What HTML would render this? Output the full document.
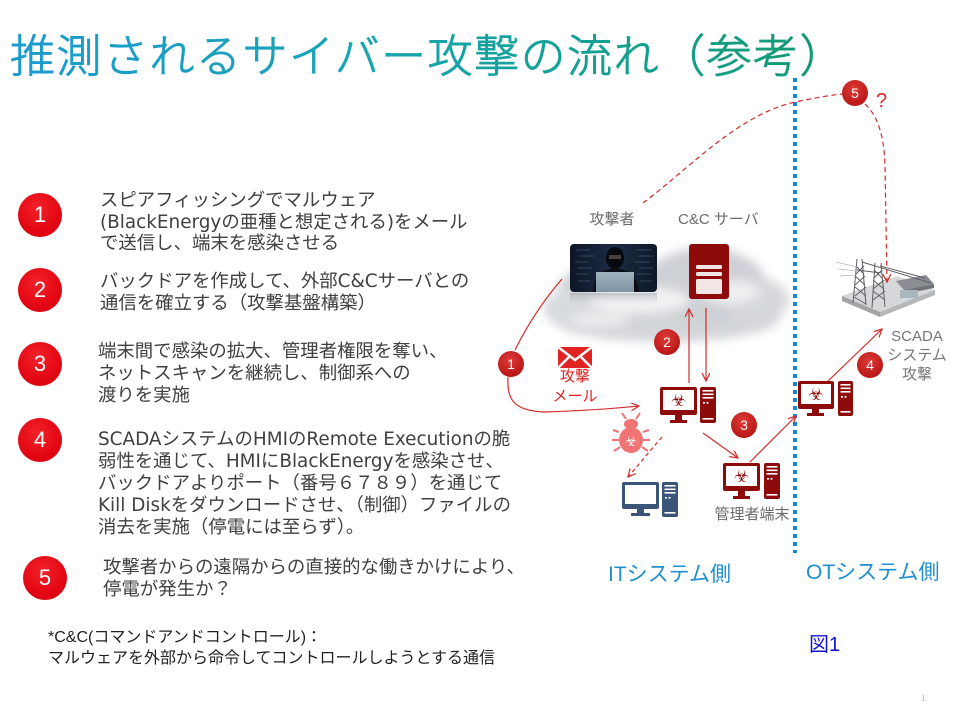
<!DOCTYPE html>
<html><head><meta charset="utf-8">
<style>
html,body{margin:0;padding:0;background:#fff;}
body{width:960px;height:720px;position:relative;overflow:hidden;font-family:"Liberation Sans","Noto Sans CJK JP",sans-serif;}
.t{position:absolute;white-space:nowrap;font-family:"Liberation Sans","Noto Sans CJK JP",sans-serif;}
.li{font-size:18.4px;color:#404040;font-family:"DejaVu Sans","Noto Sans CJK JP",sans-serif;}
.circ{position:absolute;width:44px;height:44px;border-radius:50%;background:radial-gradient(circle at 45% 35%,#f2232a 0%,#e30613 60%,#d0000c 100%);color:#fff;font-size:22px;line-height:44px;text-align:center;font-family:"Liberation Sans",sans-serif;}
.lbl{font-size:15px;color:#6b6b6b;text-align:center;}
</style></head><body>

<svg width="960" height="90" style="position:absolute;left:0;top:0;" xmlns="http://www.w3.org/2000/svg">
<defs><linearGradient id="tg" gradientUnits="userSpaceOnUse" x1="10" y1="0" x2="830" y2="0"><stop offset="0" stop-color="#1d9bd0"/><stop offset="0.45" stop-color="#17a5b0"/><stop offset="1" stop-color="#129a72"/></linearGradient></defs>
<text x="10" y="72" font-family="Noto Sans CJK JP, sans-serif" font-weight="300" font-size="45" letter-spacing="1.5" fill="url(#tg)" stroke="url(#tg)" stroke-width="0.9">推測されるサイバー攻撃の流れ（参考）</text>
</svg>

<div class="circ" style="left:18px;top:193px;">1</div>
<div class="circ" style="left:18px;top:268px;">2</div>
<div class="circ" style="left:18px;top:342px;">3</div>
<div class="circ" style="left:18px;top:418px;">4</div>
<div class="circ" style="left:23px;top:556px;">5</div>

<div class="t li" style="left:100px;top:190px;line-height:21.5px;">スピアフィッシングでマルウェア<br>(BlackEnergyの亜種と想定される)をメール<br>で送信し、端末を感染させる</div>
<div class="t li" style="left:100px;top:271px;line-height:21.5px;">バックドアを作成して、外部C&amp;Cサーバとの<br>通信を確立する（攻撃基盤構築）</div>
<div class="t li" style="left:98px;top:341px;line-height:22px;">端末間で感染の拡大、管理者権限を奪い、<br>ネットスキャンを継続し、制御系への<br>渡りを実施</div>
<div class="t li" style="left:98px;top:429px;line-height:22px;">SCADAシステムのHMIのRemote Executionの脆<br>弱性を通じて、HMIにBlackEnergyを感染させ、<br>バックドアよりポート（番号６７８９）を通じて<br>Kill Diskをダウンロードさせ、（制御）ファイルの<br>消去を実施（停電には至らず）。</div>
<div class="t li" style="left:103px;top:557px;line-height:22px;">攻撃者からの遠隔からの直接的な働きかけにより、<br>停電が発生か？</div>

<div class="t" style="left:48px;top:627px;font-size:16px;line-height:21px;color:#222;">*C&amp;C(コマンドアンドコントロール)：<br>マルウェアを外部から命令してコントロールしようとする通信</div>

<svg width="960" height="720" style="position:absolute;left:0;top:0;" xmlns="http://www.w3.org/2000/svg">
<defs>
<filter id="blur" x="-30%" y="-30%" width="160%" height="160%"><feGaussianBlur stdDeviation="5"/></filter>
<radialGradient id="rc" cx="45%" cy="35%" r="65%"><stop offset="0" stop-color="#dd3b36"/><stop offset="1" stop-color="#b81616"/></radialGradient>
<linearGradient id="refl" x1="0" y1="0" x2="0" y2="1"><stop offset="0" stop-color="#8a9098" stop-opacity="0.45"/><stop offset="1" stop-color="#c0c4c8" stop-opacity="0"/></linearGradient>
<linearGradient id="scr" x1="0" y1="0" x2="1" y2="0"><stop offset="0" stop-color="#0d1626"/><stop offset="0.5" stop-color="#1b2c44"/><stop offset="1" stop-color="#0e1828"/></linearGradient>
<linearGradient id="lap" x1="0" y1="0" x2="0" y2="1"><stop offset="0" stop-color="#9fb3c0"/><stop offset="1" stop-color="#7d93a3"/></linearGradient>
<marker id="ah" markerWidth="10" markerHeight="10" refX="8" refY="4" orient="auto" markerUnits="userSpaceOnUse"><path d="M0,0 L8,4 L0,8" fill="none" stroke="#d42a2a" stroke-width="1.2"/></marker>
</defs>

<!-- cloud -->
<g filter="url(#blur)">
<ellipse cx="665" cy="318" rx="115" ry="24" fill="#d3d6d9"/>
<ellipse cx="612" cy="293" rx="55" ry="32" fill="#d0d3d7"/>
<ellipse cx="705" cy="286" rx="62" ry="38" fill="#cdd0d4"/>
<ellipse cx="757" cy="300" rx="32" ry="22" fill="#d5d8db"/>
<ellipse cx="575" cy="308" rx="32" ry="18" fill="#d8dbde"/>
</g>
<g filter="url(#blur)" opacity="0.9">
<ellipse cx="640" cy="300" rx="50" ry="14" fill="#f3f4f5"/>
<ellipse cx="730" cy="292" rx="30" ry="12" fill="#f0f1f2"/>
<ellipse cx="600" cy="320" rx="30" ry="8" fill="#eceeef"/>
</g>

<!-- attacker image -->
<rect x="570" y="293" width="87" height="12" fill="url(#refl)"/>
<rect x="570" y="244" width="87" height="48" rx="4" fill="url(#scr)"/>
<g stroke="#4a6a90" stroke-width="0.8" opacity="0.7">
<line x1="576" y1="250" x2="590" y2="250"/><line x1="578" y1="256" x2="594" y2="256"/><line x1="575" y1="262" x2="588" y2="262"/><line x1="577" y1="268" x2="592" y2="268"/><line x1="576" y1="274" x2="588" y2="274"/><line x1="578" y1="281" x2="590" y2="281"/>
<line x1="636" y1="250" x2="652" y2="250"/><line x1="638" y1="256" x2="654" y2="256"/><line x1="635" y1="262" x2="650" y2="262"/><line x1="639" y1="268" x2="653" y2="268"/><line x1="637" y1="274" x2="651" y2="274"/><line x1="640" y1="281" x2="652" y2="281"/>
</g>
<path d="M593,292 C594,276 600,270 615,268 C630,270 637,276 639,292 Z" fill="#0a0e16"/>
<ellipse cx="615" cy="258" rx="9" ry="11" fill="#06090f"/>
<rect x="609" y="255" width="12" height="4" fill="#4a4038"/>
<rect x="596" y="272" width="38" height="20" fill="url(#lap)"/>

<!-- C&C server -->
<rect x="689" y="244" width="40" height="55" rx="3" fill="#8e0b0b"/>
<rect x="696" y="265" width="26" height="4" rx="1.5" fill="#f2e6e6"/>
<rect x="696" y="272" width="26" height="4" rx="1.5" fill="#f2e6e6"/>
<rect x="696" y="279" width="26" height="15" rx="1.5" fill="#f2e6e6"/>

<!-- blue dotted divider -->
<line x1="795" y1="78" x2="795" y2="553" stroke="#1389d6" stroke-width="4" stroke-dasharray="4 4"/>

<!-- substation -->
<g>
<polygon points="842,296 880,312 935,290 897,276" fill="#d6d7d9"/>
<polygon points="842,296 880,312 880,317 842,301" fill="#a2a3a5"/>
<polygon points="880,312 935,290 935,295 880,317" fill="#b6b7b9"/>
<polygon points="896,281 926,275 934,284 904,290" fill="#8a8d91"/>
<polygon points="904,290 934,284 934,288 904,294" fill="#6f7276"/>
<rect x="900" y="290" width="18" height="8" fill="#a9b6bd"/>
<g stroke="#5c5f63" stroke-width="1" fill="none">
<path d="M853,303 L857,259 M866,305 L862,259"/>
<path d="M856,266 L864,274 M864,266 L856,274 M855,276 L865,285 M865,276 L855,285 M855,287 L866,296 M866,287 L855,296 M854,297 L866,304"/>
<path d="M872,308 L875,263 M885,307 L881,263"/>
<path d="M874,270 L882,278 M882,270 L874,278 M873,280 L884,289 M884,280 L873,289 M873,291 L885,300 M885,291 L873,300"/>
<path d="M857,270 L881,273"/><path d="M862,262 L931,283"/><path d="M880,266 L925,278"/>
</g>
<g stroke="#b8babd" stroke-width="0.8"><line x1="836" y1="262" x2="857" y2="267"/><line x1="838" y1="269" x2="857" y2="271"/><line x1="840" y1="276" x2="857" y2="275"/></g>
</g>

<!-- arrows -->
<g fill="none" stroke="#d42a2a" stroke-width="1.2">
<path d="M562,279 Q535,310 515,350"/>
<path d="M508,377 C507,398 512,411 545,412 Q600,410 639,406" marker-end="url(#ah)"/>
<line x1="689" y1="383" x2="689" y2="309" marker-end="url(#ah)"/>
<line x1="706" y1="308" x2="706" y2="381" marker-end="url(#ah)"/>
<line x1="703" y1="433" x2="738" y2="458" marker-end="url(#ah)"/>
<line x1="750" y1="462" x2="796" y2="416" marker-end="url(#ah)"/>
<line x1="827" y1="382" x2="882" y2="329" marker-end="url(#ah)"/>
<line x1="662" y1="437" x2="628" y2="477" stroke-dasharray="4 3" marker-end="url(#ah)"/>
<path d="M643,203 C690,168 740,112 800,101 C820,97 832,95 843,94" stroke-dasharray="5 3.5"/>
<path d="M865,104 C878,116 884,136 885,165 L887,282" stroke-dasharray="5 3.5" marker-end="url(#ah)"/>
</g>

<!-- mail icon -->
<rect x="558" y="347" width="34" height="21" fill="#e02424"/>
<polyline points="558,347 575,360 592,347" fill="none" stroke="#fff" stroke-width="2.5"/>
<line x1="558" y1="368" x2="569" y2="357" stroke="#fff" stroke-width="2.5"/>
<line x1="592" y1="368" x2="581" y2="357" stroke="#fff" stroke-width="2.5"/>

<!-- bug -->
<g stroke="#f07474" stroke-width="2" fill="none">
<line x1="626" y1="419" x2="622" y2="413"/><line x1="636" y1="419" x2="640" y2="413"/>
<line x1="619" y1="432" x2="613" y2="430"/><line x1="643" y1="432" x2="649" y2="430"/>
<line x1="619" y1="440" x2="612" y2="440"/><line x1="643" y1="440" x2="650" y2="440"/>
<line x1="620" y1="447" x2="614" y2="451"/><line x1="642" y1="447" x2="648" y2="451"/>
</g>
<ellipse cx="631" cy="424" rx="7" ry="5" fill="#f07474"/>
<ellipse cx="631" cy="440" rx="12" ry="13" fill="#f07474"/>
<text x="631" y="446" font-family="DejaVu Sans" font-size="14" fill="#fff" text-anchor="middle">☣</text>

<!-- PC1 -->
<g>
<rect x="660" y="387" width="37" height="28" rx="2" fill="#8e0b0b"/><rect x="663" y="390" width="31" height="20" fill="#fff"/>
<rect x="675" y="415" width="7" height="5" fill="#8e0b0b"/><rect x="670" y="420" width="17" height="3" fill="#8e0b0b"/>
<text x="678.5" y="406" font-family="DejaVu Sans" font-size="17" fill="#8e0b0b" text-anchor="middle">☣</text>
<rect x="700" y="387" width="16" height="36" rx="2" fill="#8e0b0b"/>
<rect x="702.5" y="390" width="11" height="1.6" fill="#fff"/><rect x="702.5" y="393.5" width="11" height="1.6" fill="#fff"/><rect x="702.5" y="397" width="11" height="1.6" fill="#fff"/>
<rect x="703" y="402" width="2" height="1.6" fill="#fff"/><rect x="706.5" y="402" width="2" height="1.6" fill="#fff"/>
<rect x="702.5" y="418" width="11" height="1.6" fill="#fff"/>
</g>
<!-- admin PC -->
<g>
<rect x="723" y="463" width="37" height="28" rx="2" fill="#8e0b0b"/><rect x="726" y="466" width="31" height="20" fill="#fff"/>
<rect x="738" y="491" width="7" height="5" fill="#8e0b0b"/><rect x="733" y="496" width="17" height="3" fill="#8e0b0b"/>
<text x="741.5" y="482" font-family="DejaVu Sans" font-size="17" fill="#8e0b0b" text-anchor="middle">☣</text>
<rect x="764" y="463" width="16" height="36" rx="2" fill="#8e0b0b"/>
<rect x="766.5" y="466" width="11" height="1.6" fill="#fff"/><rect x="766.5" y="469.5" width="11" height="1.6" fill="#fff"/><rect x="766.5" y="473" width="11" height="1.6" fill="#fff"/>
<rect x="767" y="478" width="2" height="1.6" fill="#fff"/><rect x="770.5" y="478" width="2" height="1.6" fill="#fff"/>
<rect x="766.5" y="494" width="11" height="1.6" fill="#fff"/>
</g>
<!-- OT PC -->
<g>
<rect x="798" y="381" width="36" height="28" rx="2" fill="#8e0b0b"/><rect x="801" y="384" width="30" height="20" fill="#fff"/>
<rect x="812" y="409" width="7" height="4" fill="#8e0b0b"/><rect x="807" y="413" width="17" height="3" fill="#8e0b0b"/>
<text x="816" y="400" font-family="DejaVu Sans" font-size="17" fill="#8e0b0b" text-anchor="middle">☣</text>
<rect x="838" y="381" width="15" height="35" rx="2" fill="#8e0b0b"/>
<rect x="840.5" y="384" width="10" height="1.6" fill="#fff"/><rect x="840.5" y="387.5" width="10" height="1.6" fill="#fff"/><rect x="840.5" y="391" width="10" height="1.6" fill="#fff"/>
<rect x="841" y="396" width="2" height="1.6" fill="#fff"/><rect x="844.5" y="396" width="2" height="1.6" fill="#fff"/>
<rect x="840.5" y="411" width="10" height="1.6" fill="#fff"/>
</g>
<!-- blue PC -->
<g>
<rect x="622" y="482" width="37" height="27" rx="2" fill="#3b5578"/><rect x="625" y="485" width="31" height="19" fill="#fff"/>
<rect x="637" y="509" width="7" height="4" fill="#3b5578"/><rect x="631" y="513" width="19" height="3" fill="#3b5578"/>
<rect x="662" y="482" width="16" height="35" rx="2" fill="#3b5578"/>
<rect x="664.5" y="485" width="11" height="1.6" fill="#fff"/><rect x="664.5" y="488.5" width="11" height="1.6" fill="#fff"/><rect x="664.5" y="492" width="11" height="1.6" fill="#fff"/>
<rect x="665" y="497" width="2" height="1.6" fill="#fff"/><rect x="668.5" y="497" width="2" height="1.6" fill="#fff"/>
<rect x="664.5" y="512" width="11" height="1.6" fill="#fff"/>
</g>

<!-- numbered circles -->
<g font-family="Liberation Sans, sans-serif" font-size="14" fill="#fff" text-anchor="middle">
<circle cx="511" cy="364" r="13" fill="url(#rc)"/><text x="511" y="369">1</text>
<circle cx="667" cy="342" r="13" fill="url(#rc)"/><text x="667" y="347">2</text>
<circle cx="744" cy="425" r="13" fill="url(#rc)"/><text x="744" y="430">3</text>
<circle cx="870" cy="365" r="13" fill="url(#rc)"/><text x="870" y="370">4</text>
<circle cx="855" cy="93" r="13" fill="url(#rc)"/><text x="855" y="98">5</text>
</g>
<text x="876" y="107" font-family="Liberation Sans, sans-serif" font-size="20" fill="#d42a2a">?</text>
</svg>

<div class="t lbl" style="left:582px;top:211px;width:60px;line-height:18px;">攻撃者</div>
<div class="t lbl" style="left:678px;top:211px;width:80px;line-height:18px;">C&amp;C サーバ</div>
<div class="t" style="left:545px;top:367px;width:60px;text-align:center;font-size:15px;line-height:20px;color:#dd2222;">攻撃<br>メール</div>
<div class="t lbl" style="left:707px;top:506px;width:90px;line-height:18px;">管理者端末</div>
<div class="t lbl" style="left:877px;top:327px;width:80px;line-height:19px;color:#777;">SCADA<br>システム<br>攻撃</div>

<div class="t" style="left:608px;top:562px;font-size:21px;line-height:26px;color:#1e8fcf;">ITシステム側</div>
<div class="t" style="left:806px;top:560px;font-size:21px;line-height:26px;color:#1e8fcf;">OTシステム側</div>
<div class="t" style="left:809px;top:633px;font-size:20px;line-height:24px;color:#1212cc;">図1</div>
<div class="t" style="left:921px;top:694px;font-size:8px;line-height:10px;color:#bbb;">1</div>

</body></html>
